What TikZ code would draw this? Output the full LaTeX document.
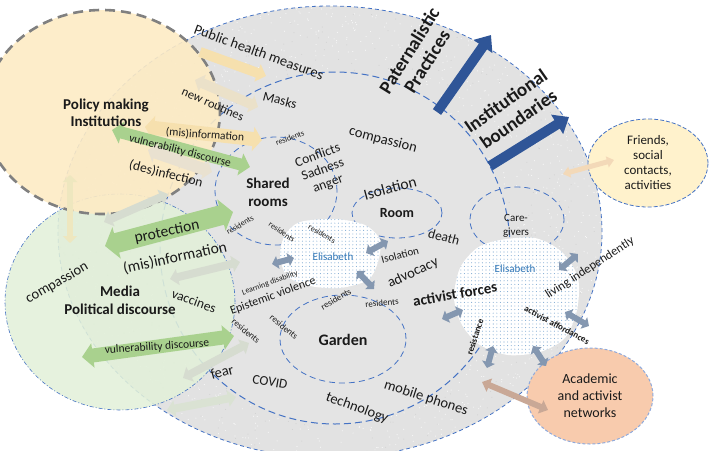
\documentclass[tikz,border=0pt]{standalone}
\usepackage{fontspec}
\setmainfont{Carlito}
\usetikzlibrary{arrows.meta,patterns.meta,shapes.geometric}
\definecolor{outerfill}{HTML}{E2E2E2}
\definecolor{speckdark}{HTML}{D0D0D0}
\definecolor{specklight}{HTML}{F7F7F7}
\definecolor{innerfill}{HTML}{E4E4E4}
\definecolor{bdash}{HTML}{4472C4}
\definecolor{yfill}{HTML}{FDEBC4}
\definecolor{gfill}{HTML}{E2F0D9}
\definecolor{cyarr}{HTML}{F6E0AE}
\definecolor{cgarr}{HTML}{A9D18E}
\definecolor{clarr}{HTML}{D6DCD0}
\definecolor{cbarr}{HTML}{2F5597}
\definecolor{csarr}{HTML}{8497B0}
\definecolor{elis}{HTML}{2E75B6}
\definecolor{friendsfill}{HTML}{FFF2CC}
\definecolor{acadfill}{HTML}{F8CBAD}
\definecolor{acadarr}{HTML}{C9A896}
\definecolor{friendarr}{HTML}{F3D9B8}
\definecolor{txt}{HTML}{1A1A1A}
\newcommand\fsz[1]{\fontsize{#1}{#1}\selectfont}
\begin{document}
\begin{tikzpicture}[x=1pt,y=-1pt,
  lbl/.style={inner sep=0pt, text=txt, align=center},
  sarrw/.style n args={3}{line width=#1, arrows={-Triangle[length=#2,width=#3]}},
  darrw/.style n args={3}{line width=#1, arrows={Triangle[length=#2,width=#3]-Triangle[length=#2,width=#3]}},
  subell/.style={draw=bdash, line width=0.8pt, dash pattern=on 6pt off 4pt},
  smallarr/.style={draw=csarr, darrw={6pt}{6pt}{13pt}},
]
\useasboundingbox (0,0) rectangle (709,450);
\clip (0,0) rectangle (709,450);

% outer textured region
\fill[outerfill] (330,232) ellipse[x radius=272pt, y radius=226pt];
\begin{scope}
  \clip (330,232) ellipse[x radius=272pt, y radius=226pt];
  \pgfmathsetseed{7}
  \foreach \i in {1,...,700} {
    \fill[speckdark] ({58+544*rnd},{6+450*rnd}) circle[radius=0.5pt];
  }
  \foreach \i in {1,...,2500} {
    \fill[specklight] ({58+544*rnd},{6+450*rnd}) circle[radius=0.6pt];
  }
\end{scope}
\draw[bdash, line width=0.8pt, dash pattern=on 4pt off 3pt] (330,232) ellipse[x radius=272pt, y radius=226pt];

% inner grey region
\fill[innerfill] (335,248) ellipse[x radius=175pt, y radius=176pt];
\draw[bdash, line width=1pt, dash pattern=on 7pt off 4pt] (335,248) ellipse[x radius=175pt, y radius=176pt];

% sub areas
\draw[subell] (276,191) ellipse[x radius=61pt, y radius=54pt];
\draw[subell] (397,213) ellipse[x radius=45pt, y radius=25pt];
\draw[subell] (343,339) ellipse[x radius=63pt, y radius=44pt];
\draw[subell] (517,220) ellipse[x radius=47pt, y radius=33pt];

% Elisabeth blobs
\path[fill=white] plot[smooth cycle] coordinates {(300,222) (335,219) (365,225) (380,240) (378,262) (368,280) (340,288) (310,286) (287,276) (280,255) (285,235)};
\path[pattern={Dots[radius=0.55pt,distance=3.6pt]}, pattern color=elis!60] plot[smooth cycle] coordinates {(300,222) (335,219) (365,225) (380,240) (378,262) (368,280) (340,288) (310,286) (287,276) (280,255) (285,235)};
\path[fill=white] plot[smooth cycle] coordinates {(500,240) (535,238) (562,252) (578,278) (577,310) (565,338) (540,352) (508,355) (480,345) (462,325) (454,298) (460,268) (477,248)};
\path[pattern={Dots[radius=0.55pt,distance=3.6pt]}, pattern color=elis!60] plot[smooth cycle] coordinates {(500,240) (535,238) (562,252) (578,278) (577,310) (565,338) (540,352) (508,355) (480,345) (462,325) (454,298) (460,268) (477,248)};

% green circle
\fill[gfill, fill opacity=0.88] (120,302) ellipse[x radius=115pt, y radius=108pt];
\draw[bdash, line width=0.6pt, dash pattern=on 4pt off 2pt on 1pt off 2pt] (120,302) ellipse[x radius=115pt, y radius=108pt];

% yellow circle
\fill[yfill, fill opacity=0.9] (102,112) ellipse[x radius=118pt, y radius=102pt];
\draw[gray, line width=2.6pt, dash pattern=on 10pt off 6pt] (102,112) ellipse[x radius=118pt, y radius=102pt];

% friends and academic
\node[ellipse, draw=bdash, line width=0.8pt, dash pattern=on 4pt off 2pt, fill=friendsfill, minimum width=120pt, minimum height=88pt, inner sep=0pt, align=center, font=\fontsize{13}{15}\selectfont, text=txt] (friends) at (648,163) {Friends,\\social\\contacts,\\activities};
\node[ellipse, draw=bdash!60, line width=1pt, dash pattern=on 3pt off 2pt, fill=acadfill, minimum width=126pt, minimum height=96pt, inner sep=0pt, align=center, font=\fontsize{14}{17}\selectfont, text=txt] (acad) at (590,396) {Academic\\and activist\\networks};

% yellow-region arrows
\draw[cyarr, sarrw={10pt}{9pt}{18pt}] (200,52) -- (266,76);
\draw[cyarr!80!gray!60, darrw={10pt}{8pt}{18pt}] (195,80) -- (258,107);
\draw[cyarr, darrw={14pt}{9pt}{24pt}] (145,127) -- (262,140);
\draw[cgarr, darrw={12pt}{10pt}{22pt}] (112,130) -- (250,167);
\draw[cyarr!70!gray!50, darrw={12pt}{8pt}{20pt}] (148,150) -- (212,172);
\draw[cyarr!60!gfill, darrw={6pt}{7pt}{14pt}] (70,175) -- (70,243);

% green-region arrows
\draw[clarr, darrw={8pt}{8pt}{16pt}] (104,222) -- (168,194);
\draw[cgarr, darrw={20pt}{12pt}{32pt}] (105,246) -- (233,212);
\draw[clarr, darrw={8pt}{8pt}{16pt}] (170,279) -- (240,262);
\draw[cgarr, darrw={14pt}{11pt}{24pt}] (82,357) -- (234,336);
\draw[clarr, darrw={8pt}{8pt}{16pt}] (183,378) -- (249,343);
\draw[clarr!70!gfill, darrw={8pt}{8pt}{16pt}] (167,410) -- (236,397);

% blue arrows
\draw[cbarr, sarrw={10pt}{14pt}{22pt}] (437,112) -- (491,35);
\draw[cbarr, sarrw={10pt}{14pt}{22pt}] (490,166) -- (569,117);

% friends / academic arrows
\draw[friendarr, darrw={5pt}{7pt}{11pt}] (563,174) -- (614,160);
\draw[acadarr, darrw={6pt}{8pt}{14pt}] (482,382) -- (548,410);

% small arrows
\draw[smallarr] (272,264) -- (294,258);
\draw[smallarr] (366,253) -- (388,241);
\draw[smallarr] (357,271) -- (374,289);
\draw[smallarr] (442,319) -- (463,310);
\draw[smallarr] (559,270) -- (578,254);
\draw[smallarr] (565,312) -- (589,326);
\draw[smallarr] (493,346) -- (487,368);
\draw[smallarr] (533,346) -- (546,366);

% texts
\node[lbl, font=\fsz{15}\bfseries] (policy) at (106,113) {Policy making\\[2pt]Institutions};
\node[lbl, font=\fsz{14.5}, rotate=-20] (phm) at (259,52) {Public health measures};
\node[lbl, font=\fsz{12.5}, rotate=-24] (nr) at (213,104) {new routines};
\node[lbl, font=\fsz{13.5}, rotate=-15] (masks) at (280,100) {Masks};
\node[lbl, font=\fsz{11.5}, rotate=-4] (mis1) at (205,135) {(mis)information};
\node[lbl, font=\fsz{11.5}, rotate=-14] (vd1) at (180,151) {vulnerability discourse};
\node[lbl, font=\fsz{13.5}, rotate=-14] (des) at (166,174) {(des)infection};
\node[lbl, font=\fsz{8}, rotate=20] (r1) at (290,138) {residents};
\node[lbl, font=\fontsize{13.5}{15}\selectfont, rotate=20] (csa) at (323,170) {Conflicts\\Sadness\\anger};
\node[lbl, font=\fontsize{15}{18}\selectfont\bfseries] (shared) at (268,192) {Shared\\rooms};
\node[lbl, font=\fsz{14.5}, rotate=-15] (comp2) at (383,140) {compassion};
\node[lbl, font=\fsz{15.5}, rotate=15] (iso1) at (390,188) {Isolation};
\node[lbl, font=\fsz{14}\bfseries] (room) at (397,213) {Room};
\node[lbl, font=\fsz{13.5}, rotate=-15] (death) at (444,237) {death};
\node[lbl, font=\fontsize{11}{14}\selectfont] (care) at (516,226) {Care-\\givers};
\node[lbl, font=\fsz{8}, rotate=30] (r2) at (240,225) {residents};
\node[lbl, font=\fsz{8}, rotate=-35] (r3) at (282,232) {residents};
\node[lbl, font=\fsz{8}, rotate=-30] (r4) at (322,234) {residents};
\node[lbl, font=\fsz{11}, text=elis] (elis1) at (333,257) {Elisabeth};
\node[lbl, font=\fsz{11}, rotate=15] (iso2) at (400,255) {Isolation};
\node[lbl, font=\fsz{14.5}, rotate=25] (adv) at (413,273) {advocacy};
\node[lbl, font=\fsz{8}, rotate=20] (ld) at (270,283) {Learning disability};
\node[lbl, font=\fsz{12}, rotate=20] (ev) at (273,296) {Epistemic violence};
\node[lbl, font=\fsz{9}, rotate=30] (r5) at (336,299) {residents};
\node[lbl, font=\fsz{9}, rotate=5] (r6) at (382,303) {residents};
\node[lbl, font=\fsz{9}, rotate=-40] (r7) at (284,327) {residents};
\node[lbl, font=\fsz{9}, rotate=-40] (r8) at (246,331) {residents};
\node[lbl, font=\fsz{16}\bfseries] (garden) at (343,340) {Garden};
\node[lbl, font=\fsz{13.5}, rotate=-20] (vacc) at (194,301) {vaccines};
\node[lbl, font=\fsz{15.5}, rotate=12] (mis2) at (175,258) {(mis)information};
\node[lbl, font=\fsz{15.5}, rotate=12] (prot) at (167,232) {protection};
\node[lbl, font=\fsz{11.5}, rotate=4] (vd2) at (157,347) {vulnerability discourse};
\node[lbl, font=\fsz{14.5}, rotate=15] (fear) at (222,372) {fear};
\node[lbl, font=\fsz{13.5}, rotate=-10] (covid) at (270,382) {COVID};
\node[lbl, font=\fsz{14.5}, rotate=-20] (tech) at (357,408) {technology};
\node[lbl, font=\fsz{14.5}, rotate=-18] (mob) at (426,398) {mobile phones};
\node[lbl, font=\fsz{15}\bfseries, rotate=10] (af) at (455,294) {activist forces};
\node[lbl, font=\fsz{11}, text=elis] (elis2) at (515,269) {Elisabeth};
\node[lbl, font=\fsz{12.5}, rotate=33] (li) at (590,268) {living independently};
\node[lbl, font=\fsz{9}\bfseries, rotate=-28] (aa) at (557,325) {activist affordances};
\node[lbl, font=\fsz{9}\bfseries, rotate=72] (res) at (475,337) {resistance};
\node[lbl, font=\fontsize{19}{21}\selectfont\bfseries, rotate=58] (pat) at (418,56) {Paternalistic\\Practices};
\node[lbl, font=\fontsize{19}{22}\selectfont\bfseries, rotate=35] (inst) at (512,110) {Institutional\\boundaries};
\node[lbl, font=\fsz{14.5}, rotate=30] (comp1) at (57,283) {compassion};
\node[lbl, font=\fontsize{15}{18}\selectfont\bfseries] (media) at (120,300) {Media\\Political discourse};
\end{tikzpicture}
\end{document}
